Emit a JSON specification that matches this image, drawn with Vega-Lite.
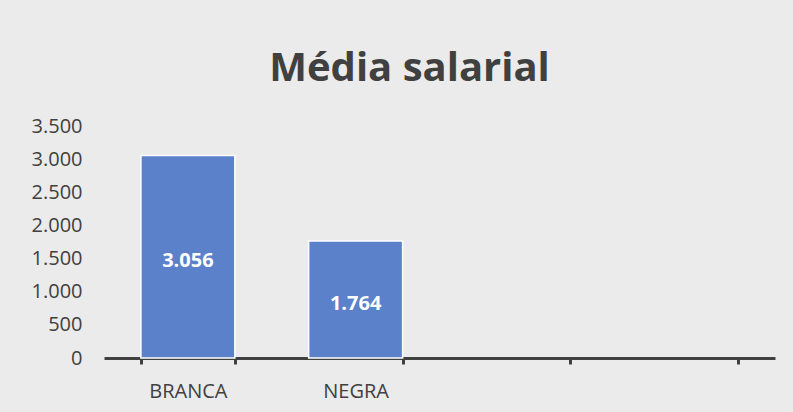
{
  "$schema": "https://vega.github.io/schema/vega-lite/v6.json",
  "width": 671,
  "height": 232,
  "autosize": "none",
  "padding": {"left": 104, "top": 126, "right": 18, "bottom": 54},
  "background": "#ebebeb",
  "config": {
    "locale": {"number": {"decimal": ",", "thousands": ".", "grouping": [3], "currency": ["R$", ""]}},
    "view": {"stroke": null},
    "font": "Open Sans",
    "axisY": {
      "title": null,
      "values": [0, 500, 1000, 1500, 2000, 2500, 3000, 3500],
      "format": ",d",
      "labelFont": "Open Sans",
      "labelFontSize": 20,
      "labelColor": "#404040",
      "labelPadding": 22,
      "labelOverlap": false,
      "labelFlush": false,
      "domain": false,
      "ticks": false,
      "grid": false
    }
  },
  "title": {
    "text": "Média salarial",
    "font": "Open Sans",
    "fontSize": 40,
    "fontWeight": "bold",
    "color": "#404040",
    "anchor": "middle",
    "dx": -30,
    "offset": 27
  },
  "data": {
    "values": [
      {"grupo": "BRANCA", "media": 3056},
      {"grupo": "NEGRA", "media": 1764}
    ]
  },
  "encoding": {
    "x": {
      "field": "grupo",
      "type": "nominal",
      "sort": null,
      "scale": {"domain": ["BRANCA", "NEGRA", "c3", "c4"], "paddingInner": 0.44, "paddingOuter": 0.22},
      "axis": {
        "title": null,
        "labelAngle": 0,
        "labelExpr": "datum.value == 'c3' || datum.value == 'c4' ? '' : datum.value",
        "labelFont": "Open Sans",
        "labelFontSize": 20,
        "labelColor": "#404040",
        "labelPadding": 17,
        "domainColor": "#404040",
        "domainWidth": 3,
        "tickColor": "#404040",
        "tickWidth": 3,
        "tickSize": 6,
        "tickBand": "extent",
        "grid": false
      }
    }
  },
  "layer": [
    {
      "mark": {"type": "bar", "color": "#5b81cb", "stroke": "white", "strokeWidth": 1.5},
      "encoding": {
        "y": {
          "field": "media",
          "type": "quantitative",
          "title": null,
          "scale": {"domain": [0, 3500], "nice": false},
          "axis": {"values": [0, 500, 1000, 1500, 2000, 2500, 3000, 3500], "labelOverlap": false}
        }
      }
    },
    {
      "transform": [{"calculate": "datum.media / 2", "as": "meio"}],
      "mark": {"type": "text", "color": "white", "fontWeight": "bold", "font": "Open Sans", "fontSize": 20, "baseline": "middle", "dy": 4},
      "encoding": {
        "y": {
          "field": "meio",
          "type": "quantitative",
          "title": null,
          "axis": {"values": [0, 500, 1000, 1500, 2000, 2500, 3000, 3500], "labelOverlap": false}
        },
        "text": {"field": "media", "type": "quantitative", "format": ",d"}
      }
    }
  ]
}
